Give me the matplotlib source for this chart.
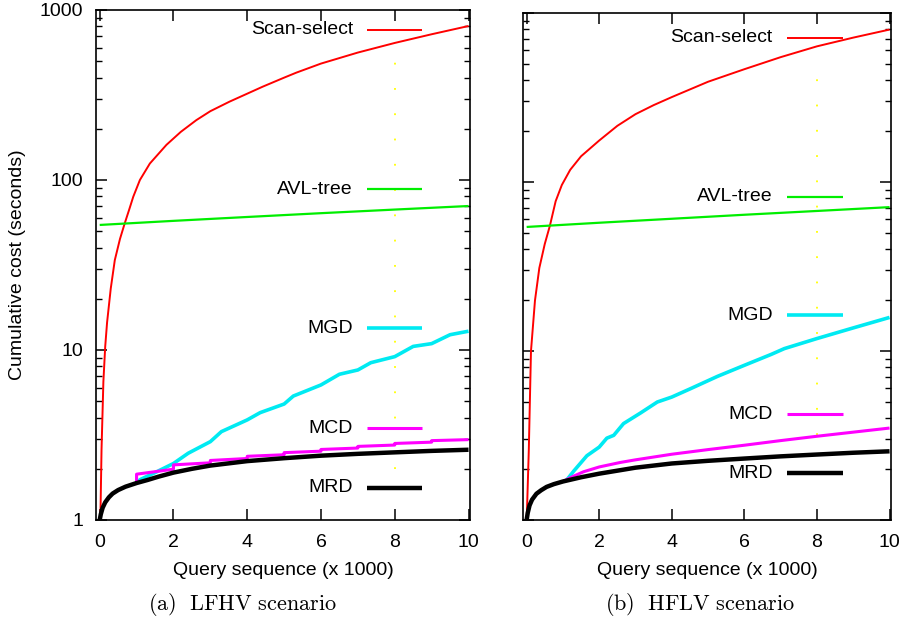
import numpy as np
import matplotlib.pyplot as plt

plt.rcParams['font.family'] = ['Liberation Sans', 'DejaVu Sans']
plt.rcParams['mathtext.fontset'] = 'cm'

# ---- (a) LFHV scenario ----
scan_a_x = [0, 0.02, 0.05, 0.1, 0.15, 0.2, 0.3, 0.41, 0.55, 0.68, 0.8, 0.91, 1.09, 1.36, 1.81,
            2.2, 2.62, 3.0, 3.52, 4.0, 4.42, 5.0, 5.33, 6, 7, 8, 9, 10]
scan_a_y = [1, 1.05, 2.6, 6.5, 10.5, 14.5, 23, 33.8, 45, 55.7, 67, 79.7, 100, 125, 161,
            192, 225, 254, 289, 322, 354, 400, 428, 484, 562, 640, 720, 805]

avl_a_x = [0, 2, 4, 6, 8, 10]
avl_a_y = [54.4, 57.5, 60.6, 63.8, 67.0, 70.3]

mgd_a_x = [1.0, 1.1, 1.5, 2.0, 2.4, 3.0, 3.3, 4.0, 4.35, 5.0, 5.25, 6.0, 6.5, 7.0, 7.35, 8.0, 8.5, 9.0, 9.5, 10]
mgd_a_y = [1.66, 1.73, 1.90, 2.15, 2.47, 2.89, 3.31, 3.88, 4.28, 4.81, 5.36, 6.23, 7.2, 7.63, 8.42, 9.14, 10.5, 10.9, 12.3, 12.9]

mcd_a_x = [1.0, 1.0, 2.0, 2.0, 3.0, 3.0, 4.0, 4.0, 5.0, 5.0, 6.0, 6.0, 7.0, 7.0, 8.0, 8.0, 9.0, 9.0, 10.0]
mcd_a_y = [1.66, 1.86, 1.99, 2.11, 2.17, 2.24, 2.30, 2.37, 2.42, 2.49, 2.54, 2.60, 2.65, 2.71, 2.76, 2.82, 2.87, 2.93, 2.97]

mrd_a_x = [0, 0.03, 0.08, 0.15, 0.25, 0.35, 0.5, 0.7, 1.0, 1.3, 1.6, 2, 2.5, 3, 4, 5, 6, 7, 8, 9, 10]
mrd_a_y = [1.0, 1.08, 1.18, 1.27, 1.36, 1.43, 1.50, 1.57, 1.65, 1.72, 1.80, 1.90, 2.00, 2.09, 2.22, 2.31, 2.39, 2.45, 2.50, 2.55, 2.59]

mark_a_y = [2.0, 590]

# ---- (b) HFLV scenario ----
scan_b_x = [0, 0.01, 0.06, 0.12, 0.23, 0.35, 0.5, 0.64, 0.8, 0.97, 1.2, 1.5, 2.0, 2.5, 3.0,
            3.5, 4.0, 5.0, 6.0, 7.0, 8.0, 9.0, 10]
scan_b_y = [1, 1.14, 2.6, 10, 19.9, 31, 43, 55, 77, 96, 118, 142, 176, 215, 252,
            285, 318, 392, 465, 548, 635, 715, 798]

avl_b_x = [0, 2, 4, 6, 8, 10]
avl_b_y = [54.2, 57.4, 60.6, 64.0, 67.4, 71.0]

mgd_b_x = [1.1, 1.3, 1.66, 2.0, 2.21, 2.4, 2.67, 3.14, 3.6, 4.0, 4.52, 5.26, 6.0, 6.74, 7.1, 8.0, 8.95, 10]
mgd_b_y = [1.72, 1.95, 2.40, 2.70, 3.05, 3.17, 3.72, 4.30, 4.99, 5.34, 5.99, 7.08, 8.23, 9.55, 10.33, 11.85, 13.6, 15.8]

mcd_b_x = [1.0, 1.3, 1.57, 2.0, 2.58, 3, 4, 5, 6, 7, 8, 9, 10]
mcd_b_y = [1.69, 1.82, 1.93, 2.06, 2.19, 2.27, 2.45, 2.61, 2.77, 2.95, 3.13, 3.31, 3.50]

mrd_b_x = [0, 0.03, 0.08, 0.15, 0.27, 0.4, 0.55, 0.75, 1.0, 1.5, 2, 3, 4, 5, 6, 7, 8, 9, 10]
mrd_b_y = [1.0, 1.1, 1.22, 1.32, 1.43, 1.50, 1.57, 1.63, 1.69, 1.79, 1.88, 2.04, 2.16, 2.24, 2.31, 2.38, 2.44, 2.50, 2.55]

mark_b_y = [3.2, 550]

names = ['Scan-select', 'AVL-tree', 'MGD', 'MCD', 'MRD']
colors = ['#ff0000', '#00ee00', '#00eaf2', '#ff00ff', '#000000']
widths = [1.4, 1.6, 2.6, 2.2, 3.2]

panels = [
    dict(series=[(scan_a_x, scan_a_y), (avl_a_x, avl_a_y), (mgd_a_x, mgd_a_y),
                 (mcd_a_x, mcd_a_y), (mrd_a_x, mrd_a_y)],
         mark=mark_a_y, caption=r'$\mathrm{(a)\ \ LFHV\ scenario}$', cap_x=242,
         rect=[96 / 903, 100 / 620, 374 / 903, 510 / 620],
         key_y=[0.961, 0.649, 0.376, 0.180, 0.063], key_x=(0.687, 0.725, 0.872)),
    dict(series=[(scan_b_x, scan_b_y), (avl_b_x, avl_b_y), (mgd_b_x, mgd_b_y),
                 (mcd_b_x, mcd_b_y), (mrd_b_x, mrd_b_y)],
         mark=mark_b_y, caption=r'$\mathrm{(b)\ \ HFLV\ scenario}$', cap_x=700,
         rect=[523 / 903, 100 / 620, 368 / 903, 507 / 620],
         key_y=[0.951, 0.638, 0.404, 0.209, 0.092], key_x=(0.679, 0.717, 0.869)),
]

fig = plt.figure(figsize=(9.03, 6.2), dpi=100)

for i, p in enumerate(panels):
    ax = fig.add_axes(p['rect'])
    ax.set_yscale('log')
    ax.set_xlim(-0.1, 10.04)
    ax.set_ylim(1, 1000)

    # dotted marker at 8000 queries
    ax.plot([8, 8], p['mark'], color='#ffff00', lw=1.3, linestyle=(0, (1, 13)))

    for (xs, ys), c, w in zip(p['series'], colors, widths):
        ax.plot(xs, ys, color=c, lw=w, solid_capstyle='butt', solid_joinstyle='round')

    # per-series key entries
    tx, l0, l1 = p['key_x']
    for name, c, w, ky in zip(names, colors, widths, p['key_y']):
        ax.text(tx, ky, name, transform=ax.transAxes, ha='right', va='center', fontsize=14)
        ax.plot([l0, l1], [ky, ky], transform=ax.transAxes, color=c, lw=w,
                solid_capstyle='butt')

    ax.set_xticks([0, 2, 4, 6, 8, 10])
    ax.set_yticks([1, 10, 100, 1000])
    ax.set_yticklabels(['1', '10', '100', '1000'])
    ax.tick_params(which='both', direction='in', top=True, right=True, labelsize=14)
    ax.tick_params(which='major', length=8, width=1.1)
    ax.tick_params(which='minor', length=4, width=1.0)
    ax.tick_params(axis='x', pad=10)
    ax.tick_params(axis='y', pad=9)
    for s in ax.spines.values():
        s.set_linewidth(1.2)
    if i == 1:
        ax.tick_params(axis='y', which='both', labelleft=False)
    else:
        ax.set_ylabel('Cumulative cost (seconds)', fontsize=14, labelpad=10)
    ax.set_xlabel('Query sequence (x 1000)', fontsize=14, labelpad=8)

    fig.text(p['cap_x'] / 903, 1 - 604 / 620, p['caption'],
             ha='center', va='center', fontsize=16)

fig.savefig('out.png', dpi=100)
